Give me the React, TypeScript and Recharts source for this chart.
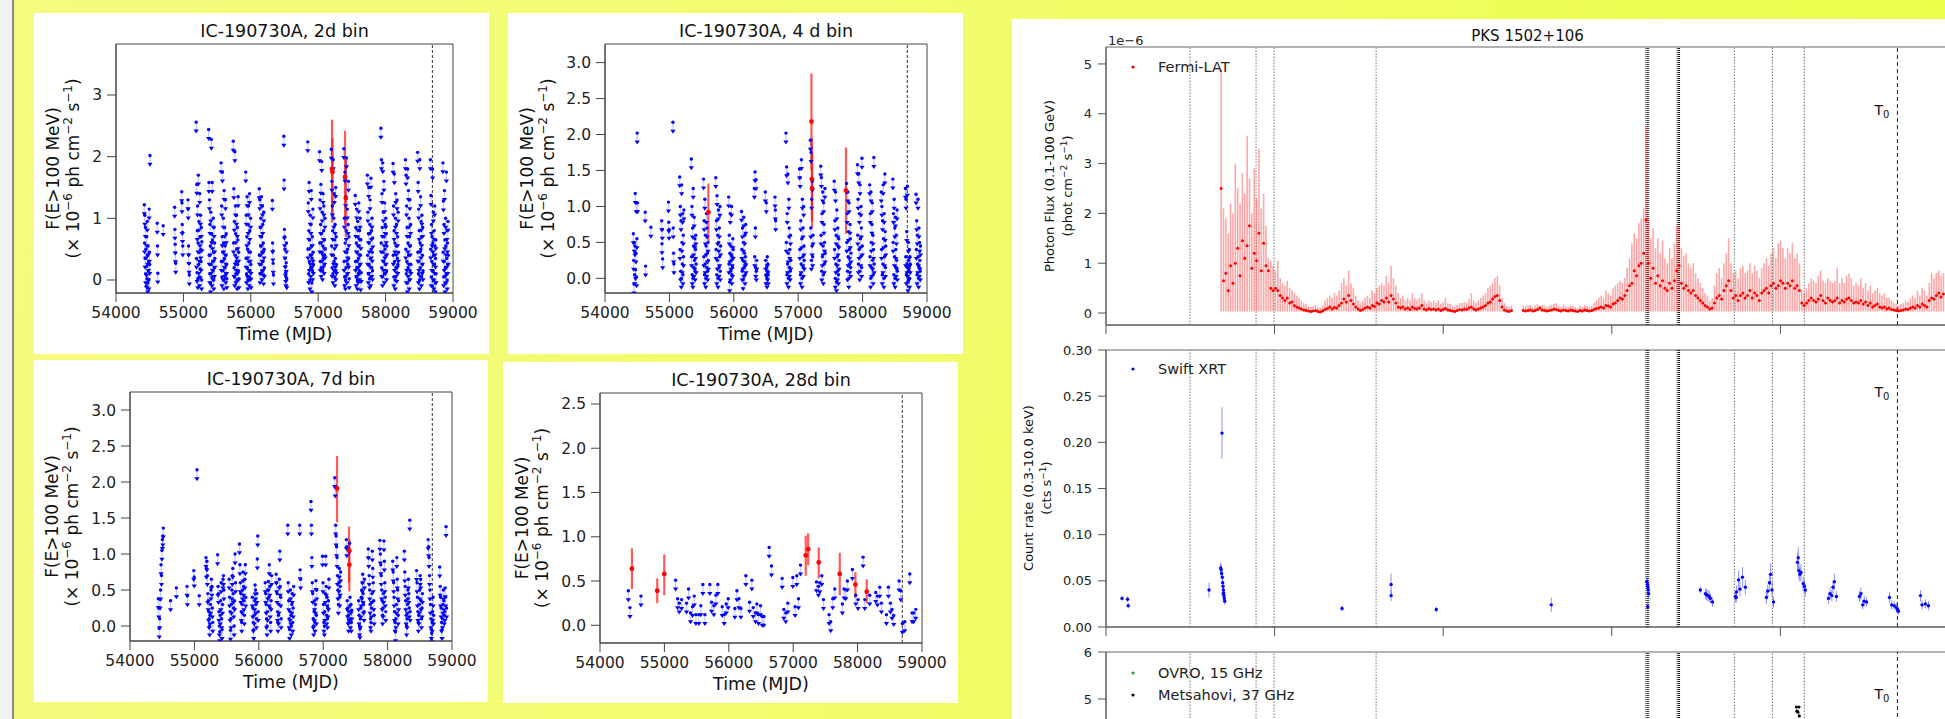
import React from "react";
import {
  ScatterChart,
  Scatter,
  XAxis,
  YAxis,
  ReferenceLine,
  ReferenceArea,
  ErrorBar,
} from "recharts";

const FONT = "'DejaVu Sans', 'Liberation Sans', sans-serif";
const T0 = 58694; // IC-190730A arrival time
const mjdTicks = [54000, 55000, 56000, 57000, 58000, 59000];

// ---------- IC-190730A light curves (F(E>100 MeV), 1e-6 ph cm^-2 s^-1) ----------
// upper limits, one row per visibility season: [first bin MJD, UL values...]
const ul2d = [
  [54420, 1.22, 0.6, 1.05, 0.35, 0.85, 0.1, 0.5, -0.1, 0.22, 0.7, 0.02, 0.95, 0.4, -0.05, 0.55, 0.15, 0.3, 0.0, 1.15, 0.45, 0.25, 2.02],
  [54612, 0.92, 0.55, 0.11],
  [54700, 0.88],
  [54870, 1.18, 0.82, 0.58, 0.44, 0.27],
  [54975, 1.43, 1.25, 0.9, 0.77, 0.55],
  [55068, 1.3, 1.15, 0.55, 0.41, 0.27, 0.08],
  [55190, 2.56, 0.35, 1.55, 0.12, 0.8, 1.2, 0.02, 0.6, 1.7, 0.25, 0.95, 0.45, 0.05, 1.4, 0.7, 0.18, 1.05, 0.5, 0.3, 0.85, 0.0, 0.62],
  [55375, 2.44, 1.58, 0.4, 1.3, 0.1, 0.9, 0.55, -0.05, 1.1, 0.25, 2.28, 0.75, 0.05, 1.58, 0.65, 0.3, 0.15, 1.0, 0.45, 0.0, 0.85, 0.2, 0.6, 0.35],
  [55560, 1.9, 0.3, 1.2, 0.05, 0.7, 1.75, 0.45, 0.15, 1.0, 0.6, 0.0, 1.45, 0.35, 0.85, 0.2, 0.55, 1.3, 0.1, 0.4, 0.75, 0.25, 0.02],
  [55740, 2.25, 0.6, 1.48, 0.2, 0.95, 0.05, 2.08, 0.4, 1.2, 0.75, 0.1, 0.3, 1.05, 0.5, 0.0, 0.85, 0.25, 0.65, 1.35, 0.15, 0.45, 0.02],
  [55925, 1.75, 0.35, 1.05, 0.1, 0.7, 1.35, 0.2, 0.5, 0.0, 0.9, 1.2, 0.3, 0.6, 0.05, 1.4, 0.8, 0.15, 0.45, 1.0, 0.25, 0.02],
  [56125, 1.48, 0.4, 1.3, 0.1, 0.85, 0.55, 1.0, 0.25, 1.35, 0.7, 0.15, 0.45, 1.2, 0.9, 0.3, 0.6, 0.08, 1.1, 0.5, 0.2],
  [56320, 1.29, 0.6, 0.47, 0.27, 0.08],
  [56490, 2.33, 1.62, 0.82, 0.7, 0.5, 0.35, 0.22, 0.12, 0.05, 0.28, 0.6, 0.02],
  [56845, 2.24, 0.5, 1.25, 0.1, 0.8, 1.58, 0.3, 0.65, 0.0, 1.05, 0.4, 0.2, 0.9, 1.45, 0.55, -0.05, 0.35, 0.7, 0.15, 1.15, 0.45, 0.25],
  [57020, 2.08, 0.6, 1.3, 0.3, 0.9, 1.55, 0.2, 0.75, 1.92, 0.45, 1.1, 0.15, 0.55, 1.4, 0.35, 0.8, 1.2, 0.25, 0.65, 0.4, 1.0, 0.5],
  [57195, 2.12, 0.55, 1.6, 0.2, 1.2, 0.8, 0.1, 1.95, 0.4, 1.0, 0.3, 1.4, 0.65, 0.05, 0.9, 0.35, 1.5, 0.15, 0.7, 0.25],
  [57380, 2.13, 0.3, 1.0, 0.05, 1.75, 0.6, 0.0, 1.35, 0.2, 0.8, 1.98, 0.45, 0.1, 1.15, 0.5, 0.25, 0.9, 1.6, 0.35, 0.7, 0.02],
  [57550, 1.37, 0.3, 0.85, 0.05, 0.6, 1.15, 0.2, 0.45, 0.0, 0.95, 0.7, 0.1, 0.35, 1.25, 0.55, 0.15, 0.8, 0.25, 1.0, 0.4, -0.02, 0.65, 0.12],
  [57730, 1.7, 0.4, 1.1, 0.1, 0.75, 1.5, 0.25, 0.6, 0.02, 0.9, 1.3, 0.35, 0.05, 1.65, 0.5, 0.8, 0.2, 1.0, 0.45, 0.15, 0.68],
  [57930, 2.46, 0.6, 1.95, 0.2, 1.4, 0.85, 0.05, 1.9, 0.45, 1.1, 0.3, 1.6, 0.7, 0.1, 1.25, 0.5, 0.9, 0.25, 1.0, 0.4, 0.75, 0.15, 0.55],
  [58110, 1.89, 0.4, 1.2, 0.05, 0.8, 1.72, 0.3, 0.6, 0.0, 1.0, 1.4, 0.2, 0.55, 0.9, 0.12, 1.3, 0.35, 0.7, 0.25, 1.1, 0.45],
  [58295, 1.95, 0.5, 1.7, 0.1, 1.2, 0.3, 0.85, -0.05, 1.8, 0.6, 0.2, 1.45, 0.4, 1.0, 0.0, 0.7, 1.3, 0.15, 0.55, 0.9, 0.25],
  [58475, 2.07, 0.45, 1.58, 0.1, 1.15, 0.3, 0.8, 0.0, 1.95, 0.6, 0.2, 1.35, 0.5, 0.95, 0.05, 0.7, 1.05, 0.25, 0.4, 0.85, 0.15],
  [58665, 1.95, 0.5, 1.37, 0.05, 0.9, 0.3, 0.7, -0.1, 1.8, 0.6, 0.15, 1.1, 0.4, 0.0, 0.8, 0.25, 1.2, 0.55, -0.05, 0.35, 0.65, 0.1],
  [58850, 1.9, 0.45, 1.28, 0.05, 0.9, 0.3, 1.45, 0.65, -0.05, 0.2, 1.0, 0.55, 0.1, 1.75, 0.35, 0.8, 0.0, 0.6, 0.25, 0.95, 0.4],
];
// detections: [MJD, flux, lower, upper]
const det2d = [
  [57205, 1.8, 0.93, 2.6],
  [57212, 1.75, 1.0, 2.3],
  [57398, 1.67, 0.9, 2.42],
  [57410, 1.33, 0.7, 2.0],
];

const ul4d = [
  [54440, 0.62, 0.25, -0.08, 0.5, 0.05, 0.45, 1.18, 0.12, 0.35, 1.05, 0.02, 0.55, 2.02, 1.05],
  [54625, 0.92, 0.17],
  [54712, 0.71],
  [54880, 0.8, 0.48, 0.68, 0.27],
  [54985, 1.06, 0.78, 0.68],
  [55055, 2.17, 0.7, 0.35, 0.2],
  [55160, 1.41, 0.4, 1.0, 0.1, 0.8, 0.0, 1.3, 0.5, 0.2, 0.9, 0.05, 0.6, 0.3, 0.95],
  [55340, 1.66, 0.3, 1.0, 0.05, 0.7, 0.0, 1.25, 0.45, 0.15, 0.85, 0.25, 0.55, 0.1, 0.4, 0.6, 0.2],
  [55530, 1.38, 0.3, 0.8, 0.05, 1.1, 0.2, 0.6, 0.0, 0.45, 0.9, 0.15, 0.7, 0.35, 0.1, 0.5, 0.25],
  [55720, 1.4, 0.4, 0.8, 0.05, 1.15, 0.25, 0.6, 0.0, 0.95, 0.5, 0.15, 0.7, 0.3, 1.0, 0.1, 0.45],
  [55920, 1.13, 0.2, 0.6, -0.05, 0.35, 0.9, 0.1, 0.45, 0.25, 1.0, 0.05, 0.3, 0.15, 0.55, 0.4],
  [56120, 0.93, 0.4, 0.1, 0.7, 0.25, -0.02, 0.5, 0.85, 0.15, 0.35, 0.6, 0.05, 0.3, 0.75, 0.2],
  [56320, 1.25, 0.3, 1.48, 0.7, 0.15, 1.37, 0.1, 0.25],
  [56490, 1.2, 0.25, 0.05, 1.05, 0.15, 0.0, 0.3, 0.1, 0.2, 0.05],
  [56640, 1.13, 0.95, 0.8],
  [56810, 2.02, 0.5, 1.55, 0.05, 0.9, 0.2, 1.45, 0.35, 0.0, 1.1, 0.7, 0.15, 0.4, 0.1, 0.6, 0.25],
  [57020, 1.52, 0.4, 1.4, 0.05, 0.8, 0.2, 1.65, 0.55, 0.0, 1.1, 0.3, 0.7, 0.15, 1.0, 0.45, 0.25],
  [57190, 1.92, 0.7, 1.75, 0.25, 1.1, 0.45, 1.35, 0.3, 0.6],
  [57350, 1.56, 0.6, 1.4, 0.1, 0.9, 0.3, 1.2, 0.45, 0.05, 1.05, 0.75, 0.2, 0.5, 1.25, 0.35],
  [57560, 1.35, 0.4, 0.8, 0.0, 1.2, 0.2, 0.6, -0.05, 0.95, 0.3, 0.1, 0.7, 0.45, 0.05, 0.55, 0.25],
  [57750, 1.32, 0.5, 0.9, 0.1, 1.2, 0.3, 0.65, 0.0, 1.05, 0.4, 0.2, 0.75, 0.55, 0.15, 0.35],
  [57920, 1.58, 0.6, 1.1, 0.2, 1.45, 0.4, 0.9, 0.1, 1.3, 0.55, 0.3, 1.0, 0.7, 0.15, 1.67, 0.45],
  [58110, 1.3, 0.3, 0.9, 0.0, 1.2, 0.5, 0.15, 0.75, 1.05, 0.25, 0.6, 0.05, 0.4, 1.68, 0.2],
  [58290, 1.2, 0.4, 1.0, 0.05, 0.8, 0.2, 1.3, 0.55, 0.0, 0.9, 0.3, 1.45, 0.65, 0.15, 0.45],
  [58470, 1.38, 0.5, 0.9, 0.05, 1.1, 0.3, 0.7, 0.0, 0.85, 0.4, 0.15, 0.6, 0.25, 0.95, 0.1],
  [58665, 1.25, 0.3, 1.1, 0.05, 0.65, 0.2, 1.28, 0.15, -0.05, 0.5, 0.25, 0.1, 0.4, 0.0, 0.3, 0.2],
  [58830, 1.17, 0.4, 0.8, 0.05, 0.6, 0.2, 1.1, 0.3, 0.0, 0.7, 0.15, 0.5, 0.25, 0.1, 0.45],
];
const det4d = [
  [55605, 0.92, 0.51, 1.32],
  [57206, 2.18, 1.5, 2.85],
  [57212, 1.38, 0.8, 1.95],
  [57216, 1.25, 0.7, 1.75],
  [57742, 1.22, 0.62, 1.82],
];

const ul7d = [
  [54440, 0.38, 0.25, -0.03, 0.1, 0.37, 0.5, 0.85, 0.7, 1.05, 1.2, 1.25, 1.36],
  [54630, 0.35],
  [54720, 0.53],
  [54885, 0.55, 0.42],
  [54990, 0.77, 0.68],
  [55040, 2.17],
  [55075, 0.42],
  [55180, 0.95, 0.8, 0.9, 0.7, 0.45, 0.35, 0.2, 0.1, 0.0, 0.15, 0.3, 0.5, 0.65, 0.55, 0.25, 0.05],
  [55360, 0.99, 0.55, 0.45, 0.2, 0.0, -0.08, 0.15, 0.35, 0.6, 0.1, -0.05, 0.3, 0.65, 0.7, 0.5],
  [55540, 0.65, 0.4, 0.2, -0.06, 0.1, 0.3, 0.5, 0.7, 0.8, 0.45, 0.25, 0.0, 0.35, 1.0, 0.6],
  [55700, 1.14, 0.85, 0.6, 0.45, 0.2, 0.05, 0.3, 0.5, 0.75, 0.55, 0.35, 0.15, 0.65, 0.85, 0.4],
  [55900, 0.4, 0.25, 0.05, -0.05, 0.15, 0.35, 0.57, 0.5, 0.3, 0.1, 0.45, 0.93, 1.25, 0.2],
  [56100, 0.6, 0.45, 0.3, 0.1, 0.0, 0.2, 0.5, 0.62, 0.4, 0.85, 0.55, 0.25, 0.05, 0.35, 0.7],
  [56270, 0.72, 0.6, 0.45, 0.2, 0.05, 0.15, 0.3, 0.65, 1.04, 0.55, 0.4, 0.1],
  [56450, 1.4, 0.6, 0.35, 0.1, -0.05, 0.2, 0.5, 0.15, 0.0, 0.3, 0.45, 0.05, 0.25, 0.55],
  [56635, 1.4, 0.78, 0.65],
  [56810, 1.73, 1.4, 0.95, 0.6, 0.45, 0.1, 0.0, 0.2, 0.35, 0.05, 0.3, 0.63, 0.15, 0.5],
  [56990, 0.97, 0.6, 0.3, 0.05, 0.0, 0.2, 0.45, 0.97, 0.55, 0.15, 0.4, 0.1, 0.25, 0.35, 0.65],
  [57180, 2.06, 1.93, 1.4, 1.25, 1.1, 0.95, 0.7, 0.5, 0.3, 0.6, 0.8, 0.4, 0.55, 0.75],
  [57360, 1.2, 1.1, 0.35, 0.25, 0.15, 0.05, 0.2, 1.15, 0.4, 0.1, 0.3, 0.05, 0.22],
  [57550, 0.35, 0.15, 0.0, -0.04, 0.1, 0.25, 0.4, 0.5, 0.6, 0.72, 0.45, 0.3, 0.2, 0.65],
  [57700, 1.07, 0.95, 0.7, 0.5, 0.3, 0.1, 0.05, 0.25, 0.45, 1.04, 0.8, 0.6, 0.35, 0.15],
  [57880, 1.19, 1.0, 0.85, 0.7, 0.5, 0.35, 0.15, 0.25, 0.45, 1.18, 0.9, 0.6, 0.4, 0.2],
  [58080, 0.9, 0.75, 0.6, 0.4, 0.2, 0.05, -0.08, 0.1, 0.3, 0.95, 0.65, 0.5, 0.15, 0.35],
  [58260, 1.04, 0.75, 0.55, 0.35, 0.15, 0.0, 0.1, 0.3, 0.5, 0.65, 0.45, 0.25, 1.47, 0.2],
  [58450, 0.77, 0.6, 0.4, 0.2, 0.05, 0.15, 0.3, 0.5, 0.7, 0.65, 0.35, 0.1, 0.25, 0.45],
  [58630, 1.2, 1.1, 0.95, 0.7, 0.5, 0.3, 0.1, -0.05, -0.1, 0.05, 0.2, 0.4, 0.15],
  [58810, 0.82, 0.55, 0.4, 0.25, 0.05, -0.05, 0.1, 0.3, 0.5, 0.35, 0.15, 0.2, 0.53, 0.4, 1.38, 0.25],
];
const det7d = [
  [57215, 1.91, 1.44, 2.36],
  [57400, 1.05, 0.6, 1.38],
  [57406, 0.85, 0.48, 1.2],
];

// 28-day bins: [MJD, UL]
const ul28d = [
  [54440, 0.39], [54465, 0.2], [54636, 0.33], [55174, 0.51], [55205, 0.3], [55231, 0.25],
  [55267, 0.29], [55344, 0.25], [55375, 0.41], [55406, 0.14], [55437, 0.21], [55463, 0.33],
  [55489, 0.12], [55535, 0.12], [55566, 0.22], [55597, 0.46], [55629, 0.12], [55706, 0.46],
  [55732, 0.26], [55768, 0.22], [55799, 0.34], [55830, 0.46], [55898, 0.21], [55929, 0.12],
  [55960, 0.24], [55991, 0.3], [56094, 0.19], [56126, 0.39], [56157, 0.3], [56188, 0.19],
  [56265, 0.56], [56322, 0.26], [56358, 0.51], [56379, 0.2], [56415, 0.14], [56436, 0.24],
  [56462, 0.12], [56493, 0.22], [56519, 0.1], [56545, 0.1], [56627, 0.88], [56663, 0.67],
  [56829, 0.53], [56854, 0.18], [56885, 0.14], [56916, 0.25], [56994, 0.54], [57030, 0.21],
  [57056, 0.56], [57082, 0.3], [57113, 0.68], [57361, 0.49], [57392, 0.44], [57413, 0.48],
  [57444, 0.56], [57470, 0.29], [57557, 0.12], [57583, 0.04], [57614, 0.3], [57645, 0.41],
  [57764, 0.24], [57790, 0.41], [57816, 0.4], [57842, 0.5], [57919, 0.63], [57971, 0.34],
  [58007, 0.29], [58085, 0.77], [58111, 0.29], [58188, 0.34], [58282, 0.37], [58308, 0.33],
  [58344, 0.43], [58370, 0.25], [58448, 0.12], [58479, 0.43], [58510, 0.25], [58535, 0.18],
  [58561, 0.11], [58644, 0.5], [58670, 0.39], [58696, 0.02], [58732, 0.04], [58810, 0.58],
  [58846, 0.14], [58872, 0.14], [58903, 0.18],
];
const det28d = [
  [54496, 0.64, 0.41, 0.87],
  [54889, 0.39, 0.25, 0.53],
  [54998, 0.58, 0.34, 0.8],
  [57195, 0.79, 0.56, 1.01],
  [57232, 0.86, 0.68, 1.04],
  [57397, 0.71, 0.53, 0.88],
  [57723, 0.58, 0.34, 0.82],
  [57966, 0.46, 0.31, 0.6],
  [58142, 0.38, 0.25, 0.52],
];

// ---------- PKS 1502+106 ----------
// Fermi-LAT 0.1-100 GeV flux (1e-6 phot cm^-2 s^-1), 14-day steps from MJD 54683
const fermiStart = 54683;
const fermiStep = 14;
const fermiFloor = 0.03; // lower end of the error bars
const fermiFlux = [
  2.5, 0.65, 0.8, 0.45, 0.95, 0.6, 1.0, 1.3, 0.75, 1.45,
  1.1, 1.35, 1.75, 0.9, 1.2, 1.05, 1.6, 0.85, 1.4, 0.95,
  0.85, 0.5, 0.45, 0.5, 0.45, 0.35, 0.3, 0.25, 0.3, 0.2,
  0.22, 0.15, 0.12, 0.1, 0.08, 0.06, 0.05, 0.04, 0.03, 0.04,
  0.05, 0.03, 0.02, 0.04, 0.07, 0.09, 0.12, 0.08, 0.11, 0.1,
  0.15, 0.2, 0.28, 0.22, 0.35, 0.25, 0.18, 0.12, 0.08, 0.05,
  0.07, 0.1, 0.12, 0.1, 0.15, 0.13, 0.2, 0.18, 0.25, 0.22,
  0.3, 0.22, 0.35, 0.28, 0.2, 0.12, 0.1, 0.12, 0.08, 0.1,
  0.07, 0.12, 0.09, 0.08, 0.1, 0.15, 0.08, 0.06, 0.09, 0.07,
  0.08, 0.06, 0.08, 0.05, 0.07, 0.09, 0.06, 0.05, 0.04, 0.03,
  0.05, 0.07, 0.06, 0.08, 0.07, 0.1, 0.12, 0.08, 0.06, 0.08,
  0.1, 0.12, 0.15, 0.2, 0.22, 0.28, 0.33, 0.35, 0.25, 0.12,
  0.06, 0.04, 0.03, 0.05, null, null, null, null, 0.05, 0.04,
  0.05, 0.06, 0.04, 0.05, 0.07, 0.1, 0.06, 0.05, 0.04, 0.05,
  0.06, 0.08, 0.07, 0.05, 0.04, 0.06, 0.05, 0.04, 0.06, 0.05,
  0.04, 0.03, 0.05, 0.04, 0.06, 0.05, 0.04, 0.05, 0.07, 0.09,
  0.1, 0.12, 0.1, 0.15, 0.14, 0.12, 0.18, 0.2, 0.25, 0.3,
  0.28, 0.35, 0.45, 0.55, 0.6, 0.85, 0.75, 0.95, 1.0, 1.2,
  1.87, 1.0, 0.7, 0.9, 0.6, 0.75, 0.55, 0.65, 0.5, 0.45,
  0.6, 0.5, 0.65, 0.85, 0.95, 0.6, 0.5, 0.55, 0.45, 0.4,
  0.45, 0.35, 0.3, 0.25, 0.2, 0.15, 0.12, 0.08, 0.1, 0.2,
  0.3, 0.35, 0.28, 0.45, 0.55, 0.65, 0.45, 0.3, 0.35, 0.25,
  0.35, 0.4, 0.3, 0.35, 0.45, 0.3, 0.4, 0.35, 0.25, 0.4,
  0.45, 0.5, 0.4, 0.55, 0.6, 0.5, 0.55, 0.65, 0.6, 0.5,
  0.6, 0.55, 0.65, 0.5, 0.55, 0.45, 0.2, 0.15, 0.2, 0.25,
  0.3, 0.25, 0.22, 0.28, 0.35, 0.25, 0.2, 0.3, 0.25, 0.22,
  0.25, 0.3, 0.2, 0.25, 0.22, 0.28, 0.3, 0.25, 0.2, 0.22,
  0.2, 0.25, 0.18, 0.22, 0.15, 0.2, 0.12, 0.15, 0.18, 0.12,
  0.1, 0.12, 0.08, 0.1, 0.07, 0.06, 0.05, 0.04, 0.05, 0.06,
  0.08, 0.07, 0.1, 0.12, 0.1, 0.15, 0.12, 0.18, 0.15, 0.12,
  0.25, 0.3, 0.28, 0.35, 0.4, 0.32, 0.38,
];
const fermiHigh = [
  4.9, 2.1, 1.9, 1.6, 2.2, 2.0, 3.0, 2.5, 2.2, 2.8,
  2.4, 3.55, 2.7, 2.0, 2.9, 2.3, 3.3, 2.1, 2.4, 1.75,
  1.1, 1.05, 0.95, 0.85, 1.05, 0.7, 0.6, 0.55, 0.65, 0.5,
  0.45, 0.4, 0.35, 0.3, 0.25, 0.2, 0.18, 0.14, 0.12, 0.14,
  0.16, 0.12, 0.1, 0.15, 0.25, 0.3, 0.35, 0.3, 0.4, 0.35,
  0.45, 0.6, 0.7, 0.55, 0.85, 0.6, 0.5, 0.35, 0.25, 0.2,
  0.25, 0.3, 0.35, 0.3, 0.45, 0.4, 0.5, 0.55, 0.6, 0.55,
  0.75, 0.6, 0.95, 0.7, 0.55, 0.4, 0.3, 0.35, 0.25, 0.3,
  0.25, 0.4, 0.3, 0.25, 0.3, 0.4, 0.25, 0.2, 0.25, 0.22,
  0.25, 0.2, 0.25, 0.18, 0.22, 0.3, 0.2, 0.18, 0.15, 0.12,
  0.15, 0.2, 0.2, 0.22, 0.2, 0.28, 0.4, 0.25, 0.2, 0.25,
  0.3, 0.35, 0.4, 0.5, 0.55, 0.6, 0.7, 0.75, 0.55, 0.3,
  0.2, 0.14, 0.12, 0.15, null, null, null, null, 0.15, 0.14,
  0.15, 0.16, 0.12, 0.15, 0.18, 0.15, 0.16, 0.14, 0.12, 0.15,
  0.16, 0.18, 0.2, 0.15, 0.12, 0.16, 0.14, 0.12, 0.15, 0.14,
  0.12, 0.1, 0.14, 0.12, 0.16, 0.14, 0.12, 0.15, 0.2, 0.25,
  0.3, 0.35, 0.3, 0.45, 0.4, 0.35, 0.5, 0.55, 0.6, 0.65,
  0.6, 0.7, 0.9, 1.1, 1.4, 1.6, 1.5, 1.8, 1.9, 2.1,
  3.75, 1.9, 1.5, 1.7, 1.3, 1.5, 1.2, 1.45, 1.1, 1.0,
  1.3, 1.1, 1.4, 1.75, 1.75, 1.3, 1.15, 1.2, 1.0, 0.9,
  1.0, 0.8, 0.7, 0.6, 0.5, 0.4, 0.35, 0.25, 0.3, 0.55,
  0.8, 0.9, 0.7, 1.0, 1.2, 1.5, 1.0, 0.8, 0.85, 0.7,
  0.9, 0.95, 0.8, 0.85, 1.0, 0.8, 0.95, 0.85, 0.7, 0.9,
  1.0, 1.1, 0.95, 1.2, 1.3, 1.1, 1.4, 1.45, 1.3, 1.1,
  1.3, 1.2, 1.4, 1.1, 1.2, 1.0, 0.45, 0.4, 0.5, 0.6,
  0.7, 0.65, 0.6, 0.75, 0.85, 0.65, 0.6, 0.7, 0.65, 0.6,
  0.65, 0.9, 0.6, 0.7, 0.6, 0.75, 0.8, 0.7, 0.55, 0.6,
  0.55, 0.7, 0.5, 0.6, 0.45, 0.55, 0.4, 0.45, 0.5, 0.4,
  0.35, 0.4, 0.3, 0.3, 0.25, 0.2, 0.18, 0.15, 0.18, 0.2,
  0.25, 0.22, 0.3, 0.35, 0.3, 0.45, 0.35, 0.5, 0.45, 0.35,
  0.6, 0.8, 0.7, 0.8, 0.85, 0.75, 0.8,
];

// Swift XRT 0.3-10 keV count rate: [MJD, rate, error]
const swiftXrt = [
  [54095, 0.031, 0.003], [54128, 0.03, 0.003], [54132, 0.023, 0.003], [54611, 0.04, 0.008],
  [54688, 0.21, 0.028], [54680, 0.064, 0.006], [54683, 0.062, 0.006], [54686, 0.058, 0.006],
  [54690, 0.054, 0.006], [54692, 0.048, 0.006], [54694, 0.044, 0.005], [54696, 0.04, 0.005],
  [54698, 0.037, 0.005], [54700, 0.034, 0.005], [54702, 0.031, 0.005], [54704, 0.028, 0.004],
  [54695, 0.036, 0.005], [55400, 0.02, 0.003], [55691, 0.046, 0.012], [55691, 0.034, 0.006],
  [55959, 0.019, 0.003], [56641, 0.024, 0.008],
  [57208, 0.049, 0.006], [57212, 0.046, 0.006], [57214, 0.043, 0.006], [57216, 0.04, 0.006],
  [57218, 0.036, 0.005], [57213, 0.022, 0.004], [57525, 0.04, 0.004],
  [57555, 0.036, 0.006], [57562, 0.035, 0.006], [57570, 0.034, 0.006], [57578, 0.033, 0.006],
  [57585, 0.031, 0.005], [57597, 0.027, 0.005],
  [57733, 0.033, 0.006], [57738, 0.032, 0.006], [57740, 0.038, 0.007], [57752, 0.051, 0.01],
  [57760, 0.041, 0.008], [57775, 0.054, 0.011], [57792, 0.043, 0.008],
  [57917, 0.032, 0.007], [57925, 0.039, 0.007], [57935, 0.048, 0.01], [57942, 0.057, 0.012],
  [57950, 0.04, 0.008], [57959, 0.027, 0.006],
  [58101, 0.07, 0.01], [58106, 0.075, 0.012], [58110, 0.061, 0.009], [58115, 0.057, 0.008],
  [58122, 0.059, 0.009], [58135, 0.047, 0.008], [58142, 0.044, 0.007], [58148, 0.04, 0.007],
  [58285, 0.031, 0.006], [58295, 0.036, 0.006], [58305, 0.034, 0.006], [58312, 0.043, 0.007],
  [58320, 0.049, 0.009], [58332, 0.033, 0.006],
  [58469, 0.033, 0.006], [58478, 0.036, 0.007], [58488, 0.024, 0.005], [58497, 0.028, 0.006],
  [58511, 0.027, 0.005],
  [58647, 0.032, 0.006], [58660, 0.024, 0.005], [58675, 0.023, 0.005], [58688, 0.021, 0.005],
  [58695, 0.019, 0.004], [58700, 0.017, 0.004],
  [58831, 0.034, 0.006], [58840, 0.024, 0.005], [58860, 0.025, 0.005], [58878, 0.023, 0.005],
];

// Metsahovi 37 GHz flux density (Jy), visible part
const metsahovi = [
  [58095, 4.83], [58110, 4.83], [58098, 4.74], [58104, 4.72], [58112, 4.64],
];

// comparison epochs marked in the PKS 1502+106 panels
const eventLines = [54498, 54890, 54997, 55602, 57727, 57953, 58142];
const eventBundles = [57203, 57211, 57219, 57388, 57395, 57402];

// ---------- helpers ----------
const seasonPoints = (rows: number[][], step: number) =>
  rows.flatMap(([t, ...vals]) => vals.map((y, i) => ({ x: t + i * step, y })));
const pairPoints = (rows: number[][]) => rows.map(([x, y]) => ({ x, y }));
const detPoints = (rows: number[][]) =>
  rows.map(([x, y, lo, hi]) => ({ x, y, err: [y - lo, hi - y] }));

const fermiData = fermiFlux.flatMap((v, i) =>
  v == null
    ? []
    : [{ x: fermiStart + i * fermiStep, y: v, err: [Math.max(v - fermiFloor, 0), (fermiHigh[i] as number) - v] }]
);
const swiftData = swiftXrt.map(([x, y, e]) => ({ x, y, err: e }));
const metsData = pairPoints(metsahovi);

const UpperLimit = (p: any) => {
  const { cx, cy } = p;
  if (cx == null || cy == null || isNaN(cx)) return <g />;
  return (
    <g>
      <line x1={cx} y1={cy} x2={cx} y2={cy + 9} stroke="rgba(0,0,255,0.22)" strokeWidth={1.3} />
      <circle cx={cx} cy={cy} r={1.7} fill="#0000ff" />
      <path d={`M${cx - 2.6},${cy + 7.4} L${cx + 2.6},${cy + 7.4} L${cx},${cy + 11.4} Z`} fill="#0000ff" />
    </g>
  );
};

const dot = (color: string, r: number) => (p: any) =>
  p.cx == null || isNaN(p.cx) ? <g /> : <circle cx={p.cx} cy={p.cy} r={r} fill={color} />;

const T0Tag = (p: any) =>
  p.cx == null ? <g /> : (
    <text x={p.cx - 8} y={p.cy + 5} textAnchor="end" fontSize={14} fill="#111">
      T<tspan dy={3} fontSize={10}>0</tspan>
    </text>
  );

const panels = [
  {
    title: "IC-190730A, 2d bin", box: [34, 13, 455, 341], plot: [116, 44, 453, 293],
    yDomain: [-0.211, 3.827], yTicks: [0, 1, 2, 3], digits: 0, labelX: [53, 73],
    ul: seasonPoints(ul2d, 4), det: detPoints(det2d),
  },
  {
    title: "IC-190730A, 4 d bin", box: [508, 13, 455, 341], plot: [605, 44, 927, 293],
    yDomain: [-0.204, 3.259], yTicks: [0, 0.5, 1, 1.5, 2, 2.5, 3], digits: 1, labelX: [527, 548],
    ul: seasonPoints(ul4d, 5), det: detPoints(det4d),
  },
  {
    title: "IC-190730A, 7d bin", box: [34, 360, 454, 342], plot: [130, 392, 452, 641],
    yDomain: [-0.208, 3.25], yTicks: [0, 0.5, 1, 1.5, 2, 2.5, 3], digits: 1, labelX: [52, 72],
    ul: seasonPoints(ul7d, 7), det: detPoints(det7d),
  },
  {
    title: "IC-190730A, 28d bin", box: [503, 362, 455, 341], plot: [600, 393, 922, 643],
    yDomain: [-0.2, 2.624], yTicks: [0, 0.5, 1, 1.5, 2, 2.5], digits: 1, labelX: [522, 542],
    ul: pairPoints(ul28d), det: detPoints(det28d),
  },
];

function LightCurve({ p }: { p: any }) {
  const [bx, by, bw, bh] = p.box;
  const [pl, pt, pr, pb] = p.plot;
  const margin = { top: pt - by, right: bx + bw - pr, left: pl - bx - 62, bottom: by + bh - pb - 40 };
  const tick = { fontSize: 15.5, fill: "#222" };
  return (
    <div style={{ position: "absolute", left: bx, top: by, width: bw, height: bh, background: "#fff" }}>
      <ScatterChart width={bw} height={bh} margin={margin}>
        <XAxis
          type="number" dataKey="x" domain={[54000, 59000]} ticks={mjdTicks} interval={0}
          allowDataOverflow height={40} tickSize={9} tickMargin={5} stroke="#444" tick={tick}
          label={{ value: "Time (MJD)", position: "bottom", offset: -5, fontSize: 17.5, fill: "#111" }}
        />
        <YAxis
          type="number" dataKey="y" domain={p.yDomain} ticks={p.yTicks} interval={0}
          allowDataOverflow width={62} tickSize={9} tickMargin={5} stroke="#444" tick={tick}
          tickFormatter={(v: number) => v.toFixed(p.digits)}
        />
        <ReferenceArea
          x1={54000} x2={59000} y1={p.yDomain[0]} y2={p.yDomain[1]} ifOverflow="visible"
          fill="none" fillOpacity={0} stroke="#444"
          label={{ value: p.title, position: "top", offset: 7, fontSize: 17.5, fill: "#111" }}
        />
        <ReferenceLine x={T0} stroke="#333" strokeDasharray="3 2" />
        <Scatter data={p.ul} shape={UpperLimit} isAnimationActive={false} />
        <Scatter data={p.det} shape={dot("#ff0000", 2.4)} isAnimationActive={false}>
          <ErrorBar dataKey="err" direction="y" width={0} stroke="rgba(255,20,20,0.7)" strokeWidth={2.2} isAnimationActive={false} />
        </Scatter>
      </ScatterChart>
    </div>
  );
}

const rTick = { fontSize: 13, fill: "#222" };
const eventRefs = () => [
  ...eventLines.map((m) => (
    <ReferenceLine key={`e${m}`} x={m} stroke="#666" strokeWidth={0.9} strokeDasharray="1.5 1.5" />
  )),
  ...eventBundles.map((m) => (
    <ReferenceLine key={`b${m}`} x={m} stroke="#111" strokeWidth={1} strokeDasharray="1 1" />
  )),
  <ReferenceLine key="t0" x={T0} stroke="#222" strokeDasharray="4 3" />,
];

function rightXAxis() {
  return (
    <XAxis
      type="number" dataKey="x" domain={[54000, 59000]} ticks={mjdTicks} interval={0}
      allowDataOverflow height={12} tickSize={9} stroke="#555" tickFormatter={() => ""}
    />
  );
}

function RightPanel() {
  const chartW = 957;
  const m = { right: 20, left: 34 };
  return (
    <div style={{ position: "absolute", left: 1012, top: 19, width: 933, height: 700, background: "#fff", overflow: "hidden" }}>
      <div style={{ position: "absolute", left: 0, top: 0 }}>
        <ScatterChart width={chartW} height={322} margin={{ ...m, top: 28, bottom: 4 }}>
          {rightXAxis()}
          <YAxis
            type="number" dataKey="y" domain={[-0.24, 5.34]} ticks={[0, 1, 2, 3, 4, 5]} interval={0}
            allowDataOverflow width={60} tickSize={8} tickMargin={6} stroke="#555" tick={rTick}
          />
          <ReferenceArea
            x1={54000} x2={59000} y1={-0.24} y2={5.34} ifOverflow="visible" fill="none" fillOpacity={0} stroke="#666"
            label={{ value: "PKS 1502+106", position: "top", offset: 6, fontSize: 15, fill: "#111" }}
          />
          {eventRefs()}
          <Scatter data={fermiData} shape={dot("#ff0000", 1.5)} isAnimationActive={false}>
            <ErrorBar dataKey="err" direction="y" width={0} stroke="rgba(255,60,60,0.45)" strokeWidth={1.6} isAnimationActive={false} />
          </Scatter>
          <Scatter data={[{ x: T0, y: 4.08 }]} shape={T0Tag} isAnimationActive={false} />
        </ScatterChart>
      </div>
      <div style={{ position: "absolute", left: 0, top: 321 }}>
        <ScatterChart width={chartW} height={303} margin={{ ...m, top: 10, bottom: 4 }}>
          {rightXAxis()}
          <YAxis
            type="number" dataKey="y" domain={[0, 0.3]} ticks={[0, 0.05, 0.1, 0.15, 0.2, 0.25, 0.3]} interval={0}
            allowDataOverflow width={60} tickSize={8} tickMargin={6} stroke="#555" tick={rTick}
            tickFormatter={(v: number) => v.toFixed(2)}
          />
          <ReferenceArea x1={54000} x2={59000} y1={0} y2={0.3} ifOverflow="visible" fill="none" fillOpacity={0} stroke="#666" />
          {eventRefs()}
          <Scatter data={swiftData} shape={dot("#0000ff", 1.7)} isAnimationActive={false}>
            <ErrorBar dataKey="err" direction="y" width={0} stroke="rgba(70,70,255,0.6)" strokeWidth={1} isAnimationActive={false} />
          </Scatter>
          <Scatter data={[{ x: T0, y: 0.254 }]} shape={T0Tag} isAnimationActive={false} />
        </ScatterChart>
      </div>
      <div style={{ position: "absolute", left: 0, top: 623 }}>
        <ScatterChart width={chartW} height={308} margin={{ ...m, top: 10, bottom: 4 }}>
          {rightXAxis()}
          <YAxis
            type="number" dataKey="y" domain={[0, 6]} ticks={[5, 6]} interval={0}
            allowDataOverflow width={60} tickSize={8} tickMargin={6} stroke="#555" tick={rTick}
          />
          <ReferenceArea x1={54000} x2={59000} y1={0} y2={6} ifOverflow="visible" fill="none" fillOpacity={0} stroke="#666" />
          {eventRefs()}
          <Scatter data={metsData} shape={dot("#000", 1.6)} isAnimationActive={false} />
          <Scatter data={[{ x: T0, y: 5.1 }]} shape={T0Tag} isAnimationActive={false} />
        </ScatterChart>
      </div>
    </div>
  );
}

function RotText({ x, y, size, children }: any) {
  return (
    <text transform={`translate(${x + size * 0.36},${y}) rotate(-90)`} textAnchor="middle" fontSize={size} fill="#111">
      {children}
    </text>
  );
}

function Annotations() {
  const legend = [
    { y: 67, color: "#ff0000", text: "Fermi-LAT" },
    { y: 369, color: "#0000ff", text: "Swift XRT" },
    { y: 673, color: "#2ca02c", text: "OVRO, 15 GHz" },
    { y: 695, color: "#000", text: "Metsahovi, 37 GHz" },
  ];
  return (
    <svg width={1945} height={719} style={{ position: "absolute", left: 0, top: 0, pointerEvents: "none" }}>
      {panels.map((p) => {
        const cy = (p.plot[1] + p.plot[3]) / 2;
        return (
          <g key={p.title}>
            <RotText x={p.labelX[0]} y={cy} size={17}>F(E&gt;100 MeV)</RotText>
            <RotText x={p.labelX[1]} y={cy} size={17}>
              (× 10<tspan dy={-7} fontSize={12}>−6</tspan>
              <tspan dy={7}> ph cm</tspan>
              <tspan dy={-7} fontSize={12}>−2</tspan>
              <tspan dy={7}> s</tspan>
              <tspan dy={-7} fontSize={12}>−1</tspan>
              <tspan dy={7}>)</tspan>
            </RotText>
          </g>
        );
      })}
      <RotText x={1049} y={186} size={13}>Photon Flux (0.1-100 GeV)</RotText>
      <RotText x={1067} y={186} size={13}>
        (phot cm<tspan dy={-5} fontSize={9}>−2</tspan>
        <tspan dy={5}> s</tspan>
        <tspan dy={-5} fontSize={9}>−1</tspan>
        <tspan dy={5}>)</tspan>
      </RotText>
      <RotText x={1028} y={488} size={13}>Count rate (0.3-10.0 keV)</RotText>
      <RotText x={1046} y={488} size={13}>
        (cts s<tspan dy={-5} fontSize={9}>−1</tspan>
        <tspan dy={5}>)</tspan>
      </RotText>
      <text x={1108} y={44.5} fontSize={13} fill="#222">1e−6</text>
      {legend.map((l) => (
        <g key={l.text}>
          <circle cx={1133} cy={l.y} r={1.6} fill={l.color} />
          <text x={1158} y={l.y + 5} fontSize={14.5} fill="#222">{l.text}</text>
        </g>
      ))}
    </svg>
  );
}

export default function App() {
  return (
    <div
      style={{
        position: "fixed", left: 0, top: 0, width: 1945, height: 719, overflow: "hidden",
        fontFamily: FONT,
        background: "linear-gradient(100deg, #f6fa80 0%, #f2fc6c 45%, #eaff46 100%)",
      }}
    >
      <div style={{ position: "absolute", left: 0, top: 0, width: 12, height: 719, background: "#f2f2f2" }} />
      <div style={{ position: "absolute", left: 12, top: 0, width: 2, height: 719, background: "#8a8a8a" }} />
      {panels.map((p) => (
        <LightCurve key={p.title} p={p} />
      ))}
      <RightPanel />
      <Annotations />
    </div>
  );
}
